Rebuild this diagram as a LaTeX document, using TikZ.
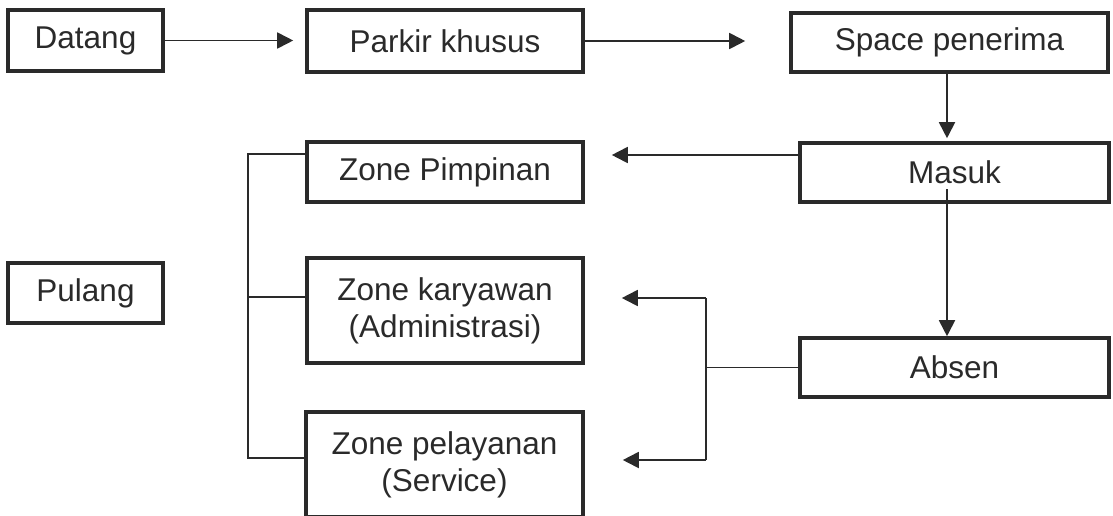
\documentclass[tikz,border=0pt]{standalone}
\usepackage{fontspec}
\setmainfont{Liberation Sans}
\usetikzlibrary{arrows.meta,calc}
\definecolor{ink}{HTML}{2A2A2A}
\begin{document}
\begin{tikzpicture}[x=1pt,y=-1pt,
  box/.style={draw=ink,line width=3.6pt,inner sep=0pt,align=center,
    text=ink,font=\fontsize{31.5}{37}\selectfont},
  conn/.style={draw=ink,line width=1.8pt},
  arr/.style={conn,-{Triangle[length=16pt,width=16pt]}}]
\useasboundingbox[fill=white] (0,0) rectangle (1113,515);
% boxes
\node[box,minimum width=155pt,minimum height=61pt] (datang) at (85.5,40.5) {Datang};
\node[box,minimum width=276pt,minimum height=62pt] (parkir) at (445,41) {Parkir khusus};
\node[box,minimum width=317pt,minimum height=59pt] (space) at (949.5,42.5) {Space penerima};
\node[box,minimum width=309pt,minimum height=59pt] (masuk) at (954.5,172.5) {Masuk};
\node[box,minimum width=276pt,minimum height=60pt] (zp) at (445,172) {Zone Pimpinan};
\node[box,minimum width=276pt,minimum height=105pt] (zk) at (445,310.5) {Zone karyawan\\(Administrasi)};
\node[box,minimum width=277pt,minimum height=105pt] (zpel) at (444.5,464.5) {Zone pelayanan\\(Service)};
\node[box,minimum width=155pt,minimum height=60pt] (pulang) at (85.5,293) {Pulang};
\node[box,minimum width=309pt,minimum height=59pt] (absen) at (954.5,367.5) {Absen};
% top row
\draw[arr,shorten >=12pt] (datang.east) -- (datang.east -| parkir.west);
\draw[arr,shorten >=44pt] (parkir.east) -- (parkir.east -| space.west);
% vertical flow
\coordinate (sx) at ($(space.south)+(-2.5,0)$);
\draw[arr,shorten >=3pt] (sx) -- (sx |- masuk.north);
\coordinate (mx) at (947,189);
\draw[arr] (mx) -- (mx |- absen.north);
% Masuk to Zone Pimpinan
\coordinate (mw) at ($(masuk.west)+(0,-17.5)$);
\draw[arr,shorten >=27pt] (mw) -- (mw -| zp.east);
% Absen bracket
\coordinate (ja) at (706,367.5);
\coordinate (jt) at (706,298);
\coordinate (jb) at (706,460);
\draw[conn] (absen.west) -- (ja);
\draw[conn] (jt) -- (jb);
\draw[arr,shorten >=37pt] (jt) -- (jt -| zk.east);
\draw[arr,shorten >=38pt] (jb) -- (jb -| zpel.east);
% left bracket
\coordinate (bt) at (248,154);
\coordinate (bm) at (248,297);
\coordinate (bb) at (248,458);
\draw[conn] (bt -| zp.west) -- (bt) -- (bb) -- (bb -| zpel.west);
\draw[conn] (bm) -- (bm -| zk.west);
\end{tikzpicture}
\end{document}
